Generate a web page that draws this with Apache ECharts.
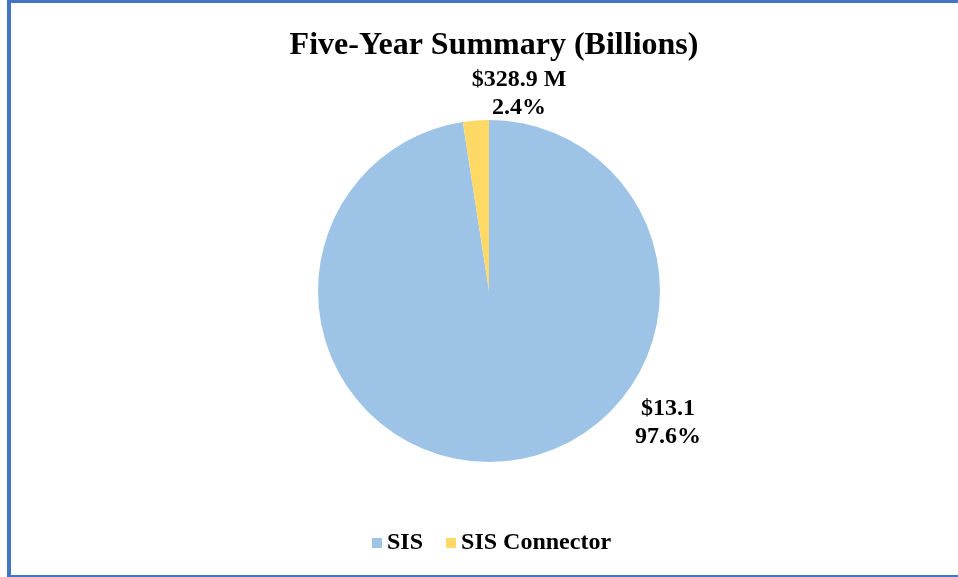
<!DOCTYPE html>
<html>
<head>
<meta charset="utf-8">
<script src="https://cdn.jsdelivr.net/npm/echarts@6/dist/echarts.min.js"></script>
<style>
  html, body { margin: 0; padding: 0; background: #fff; }
  #chart { width: 958px; height: 577px; }
</style>
</head>
<body>
<div id="chart"></div>
<script>
// data
const categories = ["SIS", "SIS Connector"];
const values = [13.1, 0.3289]; // billions
const valueLabels = ["$13.1", "$328.9 M"];
const colors = ["#9DC3E6", "#FFD966"];

const serif = "'Liberation Serif', 'Times New Roman', serif";
const chart = echarts.init(document.getElementById("chart"));

chart.setOption({
  backgroundColor: "#fff",
  animation: false,
  title: {
    text: "Five-Year Summary (Billions)",
    left: 489,
    textAlign: "center",
    top: 25,
    textStyle: { fontFamily: serif, fontWeight: "bold", fontSize: 32, color: "#000" },
  },
  legend: {
    data: categories,
    bottom: 17,
    left: 367,
    itemWidth: 10,
    itemHeight: 10,
    itemGap: 23,
    icon: "rect",
    textStyle: { fontFamily: serif, fontWeight: "bold", fontSize: 24, color: "#000" },
  },
  graphic: [
    { type: "rect", shape: { x: 7, y: 0, width: 951, height: 3 }, style: { fill: "#4472C4" } },
    { type: "rect", shape: { x: 7, y: 0, width: 4, height: 577 }, style: { fill: "#4472C4" } },
    { type: "rect", shape: { x: 7, y: 575, width: 951, height: 2 }, style: { fill: "#4472C4" } },
  ],
  series: [
    {
      type: "pie",
      center: [489, 291],
      radius: 171,
      startAngle: 90,
      clockwise: true,
      percentPrecision: 1,
      data: categories.map((name, i) => ({
        name,
        value: values[i],
        itemStyle: { color: colors[i] },
      })),
      label: {
        show: true,
        position: "outside",
        formatter: (p) => valueLabels[p.dataIndex] + "\n" + p.percent.toFixed(1) + "%",
        fontFamily: serif,
        fontWeight: "bold",
        fontSize: 24,
        lineHeight: 28,
        color: "#000",
        align: "center",
      },
      labelLine: { show: false },
      labelLayout: (params) => {
        if (params.dataIndex === 0) {
          return { x: 668, y: 423, align: "center", verticalAlign: "middle" };
        }
        return { x: 519, y: 94, align: "center", verticalAlign: "middle" };
      },
      emphasis: { disabled: true },
    },
  ],
});
</script>
</body>
</html>
